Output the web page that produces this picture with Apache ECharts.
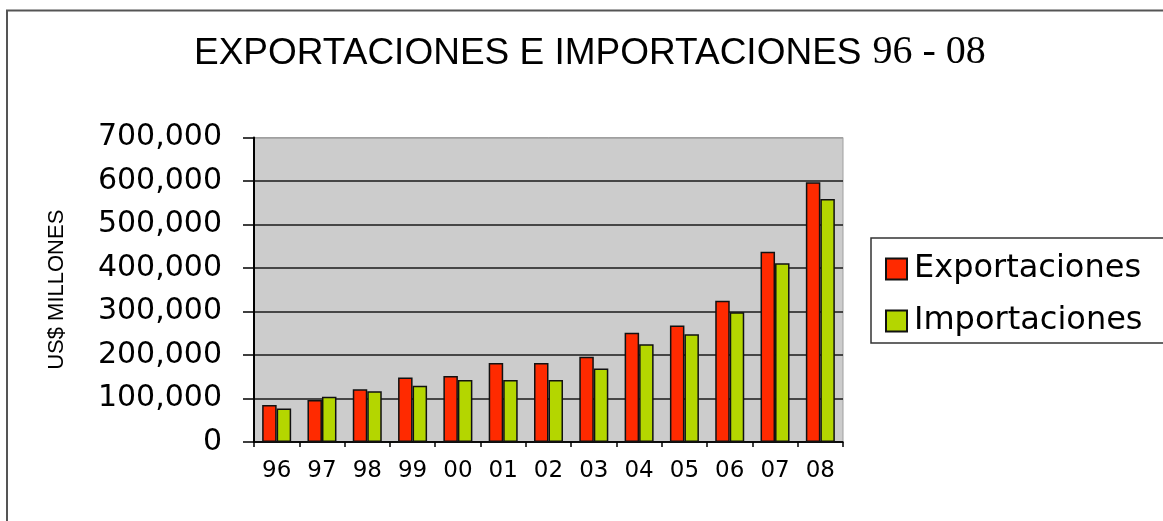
<!DOCTYPE html>
<html>
<head>
<meta charset="utf-8">
<script src="https://cdn.jsdelivr.net/npm/echarts@6/dist/echarts.min.js"></script>
<style>
html,body{margin:0;padding:0;background:#fff;}
#c{width:1163px;height:521px;}
</style>
</head>
<body>
<div id="c"></div>
<script>
const categories = ['96','97','98','99','00','01','02','03','04','05','06','07','08'];
const exportaciones = [85000, 96500, 121000, 148000, 152000, 181500, 181500, 196000, 251000, 268000, 325000, 437500, 597000];
const importaciones = [77000, 104000, 116500, 129500, 142500, 142500, 142500, 169000, 225000, 247500, 298000, 411000, 558500];
const yTicks = { min: 0, max: 700000, interval: 100000 };

function fmt(v){ return String(v).replace(/\B(?=(\d{3})+(?!\d))/g, ','); }

const chart = echarts.init(document.getElementById('c'), null, {renderer:'canvas'});
chart.setOption({
  animation: false,
  backgroundColor: '#fff',
  graphic: [{
    type: 'rect', silent: true, z: 0,
    shape: { x: 7, y: 10.5, width: 2000, height: 2000 },
    style: { fill: 'none', stroke: '#555', lineWidth: 2 }
  }],
  title: {
    text: '{a|EXPORTACIONES E IMPORTACIONES}{b|96 - 08}',
    left: 189, top: 25,
    textStyle: {
      fontWeight: 'normal',
      rich: {
        a: { fontFamily: 'Liberation Sans', fontWeight: 'normal', fontSize: 37, color: '#000', lineHeight: 42, verticalAlign: 'bottom' },
        b: { fontFamily: 'Liberation Serif', fontWeight: 'normal', fontSize: 40, color: '#000', lineHeight: 42, padding: [0,0,0,11], verticalAlign: 'bottom' }
      }
    }
  },
  legend: {
    orient: 'vertical', left: 871, top: 238,
    backgroundColor: '#fff', borderColor: '#333', borderWidth: 1.5, borderRadius: 0,
    padding: [15, 60, 6, 14],
    itemWidth: 21, itemHeight: 21, itemGap: 20,
    icon: 'rect',
    textStyle: { fontFamily: 'DejaVu Sans', fontSize: 32, color: '#000', lineHeight: 30, padding: [0,0,0,2] },
    data: ['Exportaciones', 'Importaciones']
  },
  grid: {
    left: 254, top: 137.5, right: 320, bottom: 79,
    show: true, backgroundColor: '#cccccc', borderColor: '#a0a0a0', borderWidth: 1,
    containLabel: false
  },
  xAxis: {
    type: 'category', data: categories,
    axisLine: { lineStyle: { color: '#000', width: 1.5 } },
    axisTick: { show: true, length: 5, lineStyle: { color: '#000', width: 1.5 } },
    axisLabel: { fontFamily: 'DejaVu Sans', fontSize: 23, color: '#000', margin: 18 },
    splitLine: { show: false }
  },
  yAxis: {
    type: 'value', min: yTicks.min, max: yTicks.max, interval: yTicks.interval,
    name: 'US$ MILLONES', nameLocation: 'middle', nameGap: 186, nameRotate: 90,
    nameTextStyle: { fontFamily: 'Liberation Sans', fontSize: 22, color: '#000' },
    axisLine: { show: true, lineStyle: { color: '#000', width: 2 } },
    axisTick: { show: true, length: 11, lineStyle: { color: '#000', width: 1.5 } },
    axisLabel: { fontFamily: 'DejaVu Sans', fontSize: 30, color: '#000', margin: 32, formatter: fmt },
    splitLine: { show: true, lineStyle: { color: ['#000','#1a1a1a','#1a1a1a','#1a1a1a','#1a1a1a','#1a1a1a','#1a1a1a','#a0a0a0'], width: 1.5 } }
  },
  series: [
    { name: 'Exportaciones', type: 'bar', data: exportaciones, barWidth: 14.5, barGap: '0%',
      itemStyle: { color: '#ff2a00', borderColor: '#111', borderWidth: 1.5 } },
    { name: 'Importaciones', type: 'bar', data: importaciones, barWidth: 14.5, barGap: '0%',
      itemStyle: { color: '#b4d600', borderColor: '#111', borderWidth: 1.5 } }
  ]
});
</script>
</body>
</html>
